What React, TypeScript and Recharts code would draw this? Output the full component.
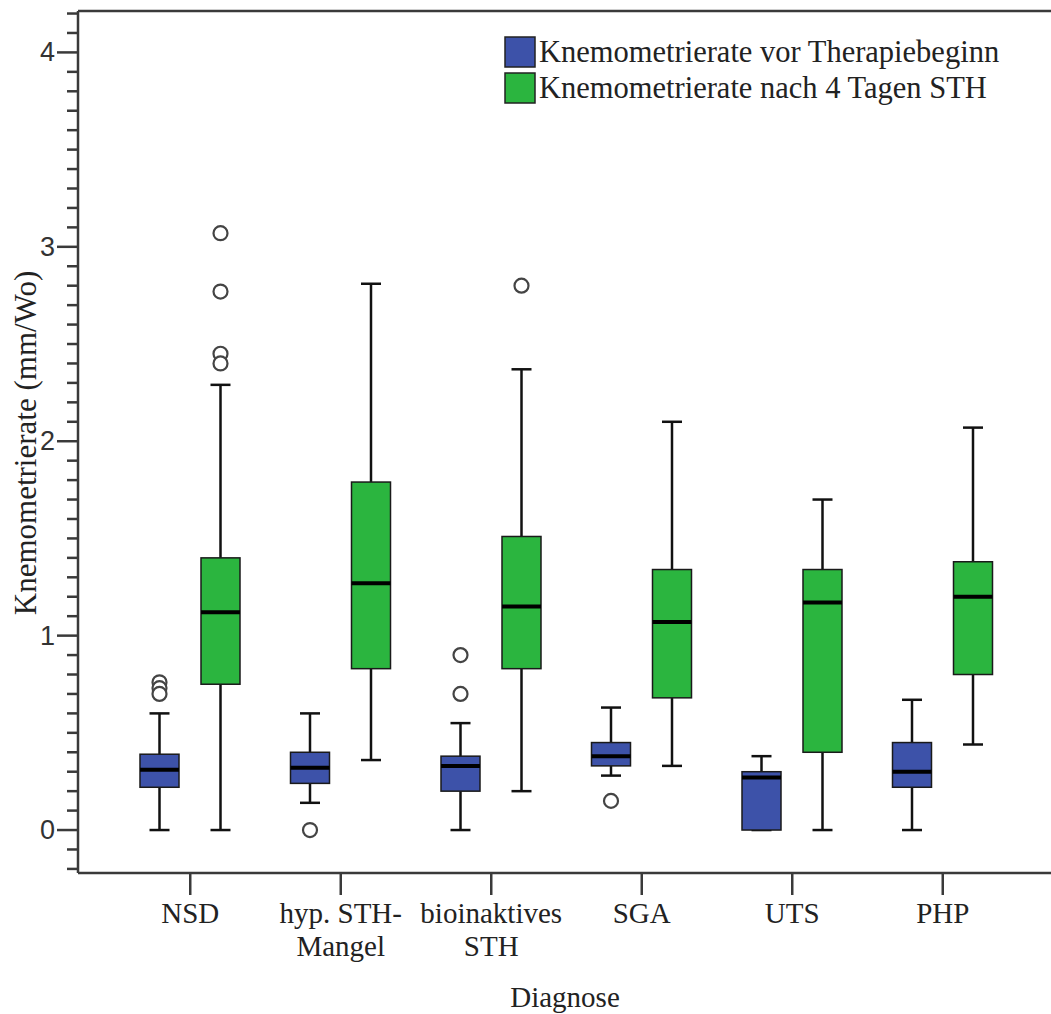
import React from 'react'
import { ComposedChart, Bar, XAxis, YAxis, ReferenceLine } from 'recharts'

// Kategorien (Diagnose)
const categories = ['NSD', 'hyp. STH-\nMangel', 'bioinaktives\nSTH', 'SGA', 'UTS', 'PHP']

// Knemometrierate vor Therapiebeginn
const vorMin = [0, 0.14, 0, 0.28, 0, 0]
const vorQ1 = [0.22, 0.24, 0.2, 0.33, 0, 0.22]
const vorMedian = [0.31, 0.32, 0.33, 0.38, 0.27, 0.3]
const vorQ3 = [0.39, 0.4, 0.38, 0.45, 0.3, 0.45]
const vorMax = [0.6, 0.6, 0.55, 0.63, 0.38, 0.67]
const vorOutliers = [[0.76, 0.73, 0.7], [0], [0.9, 0.7], [0.15], [], []]

// Knemometrierate nach 4 Tagen STH
const nachMin = [0, 0.36, 0.2, 0.33, 0, 0.44]
const nachQ1 = [0.75, 0.83, 0.83, 0.68, 0.4, 0.8]
const nachMedian = [1.12, 1.27, 1.15, 1.07, 1.17, 1.2]
const nachQ3 = [1.4, 1.79, 1.51, 1.34, 1.34, 1.38]
const nachMax = [2.29, 2.81, 2.37, 2.1, 1.7, 2.07]
const nachOutliers = [[3.07, 2.77, 2.45, 2.4], [], [2.8], [], [], []]

const yTicks = [
  -0.2, -0.1, 0, 0.1, 0.2, 0.3, 0.4, 0.5, 0.6, 0.7, 0.8, 0.9, 1, 1.1, 1.2, 1.3, 1.4, 1.5, 1.6, 1.7, 1.8, 1.9,
  2, 2.1, 2.2, 2.3, 2.4, 2.5, 2.6, 2.7, 2.8, 2.9, 3, 3.1, 3.2, 3.3, 3.4, 3.5, 3.6, 3.7, 3.8, 3.9, 4, 4.1, 4.2,
]
const Y_MIN = -0.221
const Y_MAX = 4.213

const BLUE = '#3d52a9'
const GREEN = '#2bb53f'
const AXIS = '#3a3a3a'
const SERIF = '"Liberation Serif", "Times New Roman", serif'

type Stats = { min: number; q1: number; med: number; q3: number; max: number; out: number[] }

const data = categories.map((name, i) => ({
  name,
  vor: { min: vorMin[i], q1: vorQ1[i], med: vorMedian[i], q3: vorQ3[i], max: vorMax[i], out: vorOutliers[i] },
  nach: { min: nachMin[i], q1: nachQ1[i], med: nachMedian[i], q3: nachQ3[i], max: nachMax[i], out: nachOutliers[i] },
}))

// the bar covers the whisker range; the rest is placed with the same px-per-unit
function BoxShape(props: any) {
  const { x, y, width, height, payload, fill, series } = props
  const s: Stats = payload[series]
  const top = Math.min(y, y + height)
  const h = Math.abs(height)
  const k = h / (s.max - s.min)
  const toY = (v: number) => top + (s.max - v) * k
  const cx = x + width / 2
  const cap = 10
  return (
    <g>
      <line x1={cx} x2={cx} y1={toY(s.max)} y2={toY(s.q3)} stroke="#111" strokeWidth={2.5} />
      <line x1={cx} x2={cx} y1={toY(s.q1)} y2={toY(s.min)} stroke="#111" strokeWidth={2.5} />
      <line x1={cx - cap} x2={cx + cap} y1={toY(s.max)} y2={toY(s.max)} stroke="#111" strokeWidth={2.5} />
      <line x1={cx - cap} x2={cx + cap} y1={toY(s.min)} y2={toY(s.min)} stroke="#111" strokeWidth={2.5} />
      <rect x={x} y={toY(s.q3)} width={width} height={toY(s.q1) - toY(s.q3)} fill={fill} stroke="#1a1a1a" strokeWidth={1.5} />
      <line x1={x} x2={x + width} y1={toY(s.med)} y2={toY(s.med)} stroke="#000" strokeWidth={4} />
      {s.out.map((o, j) => (
        <circle key={j} cx={cx} cy={toY(o)} r={7} fill="#fff" stroke="#444" strokeWidth={2.2} />
      ))}
    </g>
  )
}

function YTick(props: any) {
  const { x, y, payload } = props
  const v = payload.value
  const major = Math.abs(v - Math.round(v)) < 1e-6
  return (
    <g>
      <line x1={x - (major ? 21 : 11)} x2={x} y1={y} y2={y} stroke={AXIS} strokeWidth={2.5} />
      {major && (
        <text x={x - 23} y={y} textAnchor="end" dominantBaseline="central" fontFamily='"Liberation Sans", Arial, sans-serif' fontSize={27} fill="#333">
          {Math.round(v)}
        </text>
      )}
    </g>
  )
}

function XTick(props: any) {
  const { x, y, payload } = props
  const lines = String(payload.value).split('\n')
  return (
    <g>
      <line x1={x} x2={x} y1={y} y2={y + 22} stroke={AXIS} strokeWidth={2.5} />
      {lines.map((l, i) => (
        <text key={i} x={x} y={y + 50 + i * 33} textAnchor="middle" fontFamily={SERIF} fontSize={29} fill="#222">
          {l}
        </text>
      ))}
    </g>
  )
}

export default function App() {
  return (
    <div style={{ position: 'absolute', left: 0, top: 0, width: 1051, height: 1014, overflow: 'hidden', background: '#fff' }}>
      <ComposedChart width={1051} height={1014} data={data} margin={{ top: 11, right: 0, bottom: 0, left: 0 }} barSize={39} barGap={22}>
        <XAxis
          dataKey="name"
          type="category"
          height={141}
          padding={{ left: 37, right: 33 }}
          tickLine={false}
          tickSize={0}
          tickMargin={0}
          interval={0}
          tick={<XTick />}
          axisLine={{ stroke: AXIS, strokeWidth: 2.5 }}
        />
        <YAxis
          type="number"
          width={78}
          domain={[Y_MIN, Y_MAX]}
          allowDataOverflow
          ticks={yTicks}
          interval={0}
          tickLine={false}
          tickSize={0}
          tickMargin={0}
          tick={<YTick />}
          axisLine={{ stroke: AXIS, strokeWidth: 2.5 }}
        />
        <ReferenceLine y={Y_MAX} stroke={AXIS} strokeWidth={2.5} />
        <Bar
          dataKey={(d: any) => [d.vor.min, d.vor.max]}
          fill={BLUE}
          isAnimationActive={false}
          shape={(p: any) => <BoxShape {...p} series="vor" fill={BLUE} />}
        />
        <Bar
          dataKey={(d: any) => [d.nach.min, d.nach.max]}
          fill={GREEN}
          isAnimationActive={false}
          shape={(p: any) => <BoxShape {...p} series="nach" fill={GREEN} />}
        />
      </ComposedChart>
      <svg width={1051} height={1014} style={{ position: 'absolute', left: 0, top: 0, pointerEvents: 'none' }}>
        <text x={565} y={1007} textAnchor="middle" fontFamily={SERIF} fontSize={29} fill="#222">Diagnose</text>
        <text transform="translate(36 443) rotate(-90)" textAnchor="middle" fontFamily={SERIF} fontSize={31} fill="#222">
          Knemometrierate (mm/Wo)
        </text>
        <rect x={505} y={37} width={30} height={30} fill={BLUE} stroke="#222" strokeWidth={1.5} />
        <rect x={505} y={73} width={30} height={30} fill={GREEN} stroke="#222" strokeWidth={1.5} />
        <text x={539} y={62} fontFamily={SERIF} fontSize={30.5} fill="#222">Knemometrierate vor Therapiebeginn</text>
        <text x={539} y={98} fontFamily={SERIF} fontSize={30.5} fill="#222">Knemometrierate nach 4 Tagen STH</text>
      </svg>
    </div>
  )
}
